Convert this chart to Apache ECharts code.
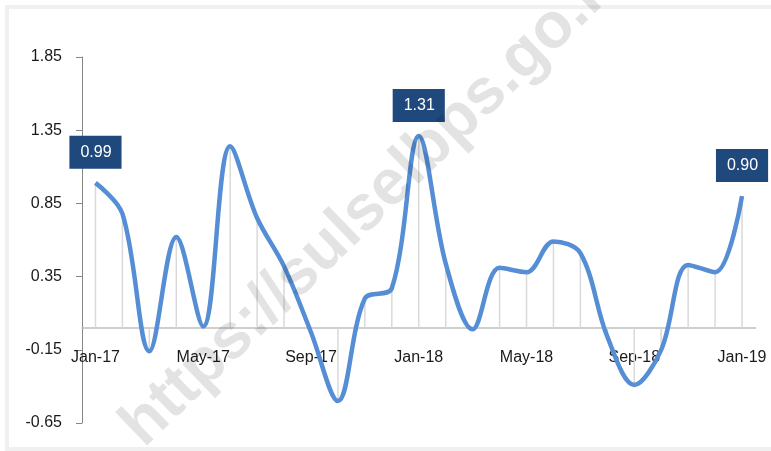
<!DOCTYPE html>
<html><head><meta charset="utf-8">
<script src="https://cdn.jsdelivr.net/npm/echarts@6/dist/echarts.min.js"></script>
<style>
html,body{margin:0;padding:0;background:#fff;overflow:hidden;}
#frame{position:absolute;left:5px;top:5px;width:800px;height:438px;border:4px solid #f0f0f0;}
#chart{position:absolute;left:0;top:0;width:771px;height:451px;}
</style></head><body>
<div id="frame"></div>
<div id="chart"></div>
<script>
const months = ['Jan-17','Feb-17','Mar-17','Apr-17','May-17','Jun-17','Jul-17','Aug-17','Sep-17','Oct-17','Nov-17','Dec-17',
  'Jan-18','Feb-18','Mar-18','Apr-18','May-18','Jun-18','Jul-18','Aug-18','Sep-18','Oct-18','Nov-18','Dec-18','Jan-19'];
const values = [0.99,0.78,-0.16,0.62,0.01,1.24,0.75,0.42,-0.03,-0.50,0.20,0.27,
  1.31,0.44,-0.01,0.41,0.38,0.59,0.51,-0.06,-0.39,-0.15,0.43,0.38,0.90];
const labeledIdx = [0,12,24];
const yMin = -0.65, yMax = 1.85, yStep = 0.5;
const watermarkText = 'https://sulselbps.go.id';

const FONT = "'Liberation Sans',Arial,sans-serif";
const G = {left:82, right:15.5, top:57, bottom:28};
const H = 451, plotH = H - G.top - G.bottom;
const zeroFromBottom = (0 - yMin) / (yMax - yMin) * plotH;

const chart = echarts.init(document.getElementById('chart'), null, {renderer:'canvas'});
const lineData = values.map((v,i)=>({
  value: v,
  label: {show: labeledIdx.indexOf(i) >= 0}
}));
chart.setOption({
  animation:false,
  grid:Object.assign({containLabel:false, outerBoundsMode:'none'}, G),
  xAxis:{
    type:'category', data:months, boundaryGap:true, offset:-zeroFromBottom,
    axisLine:{onZero:false, lineStyle:{color:'#bfbfbf', width:1.5}},
    axisTick:{show:false},
    axisLabel:{interval:3, margin:22, color:'#1a1a1a', fontSize:16, fontFamily:FONT}
  },
  yAxis:{
    type:'value', min:yMin, max:yMax, interval:yStep,
    splitLine:{show:false},
    axisLine:{show:true, lineStyle:{color:'#868686'}},
    axisTick:{show:true, inside:false, length:6, lineStyle:{color:'#868686'}},
    axisLabel:{margin:20, color:'#1a1a1a', fontSize:16, fontFamily:FONT,
      formatter:v=>(Math.round(v*100)/100).toFixed(2)}
  },
  series:[
    {type:'bar', data:values, barWidth:1.5, itemStyle:{color:'#d9d9d9'}, z:1, silent:true},
    {type:'line', data:lineData, smooth:0.35, symbol:'circle', symbolSize:0.1, showSymbol:true,
      lineStyle:{color:'#558ED5', width:4.5}, itemStyle:{color:'#558ED5'}, z:3,
      label:{position:'top', distance:14, color:'#fff', fontSize:16, lineHeight:17, fontFamily:FONT,
        backgroundColor:'#1F497D', padding:[8,10,8,11], formatter:p=>p.value.toFixed(2)}
    }
  ],
  graphic:[{
    type:'text', x:376, y:200, rotation:44*Math.PI/180, z:100, silent:true,
    style:{text:watermarkText, fill:'rgba(0,0,0,0.11)', font:"bold 64px 'Liberation Sans', Arial, sans-serif",
      align:'center', verticalAlign:'middle'}
  }]
});
</script>
</body></html>
